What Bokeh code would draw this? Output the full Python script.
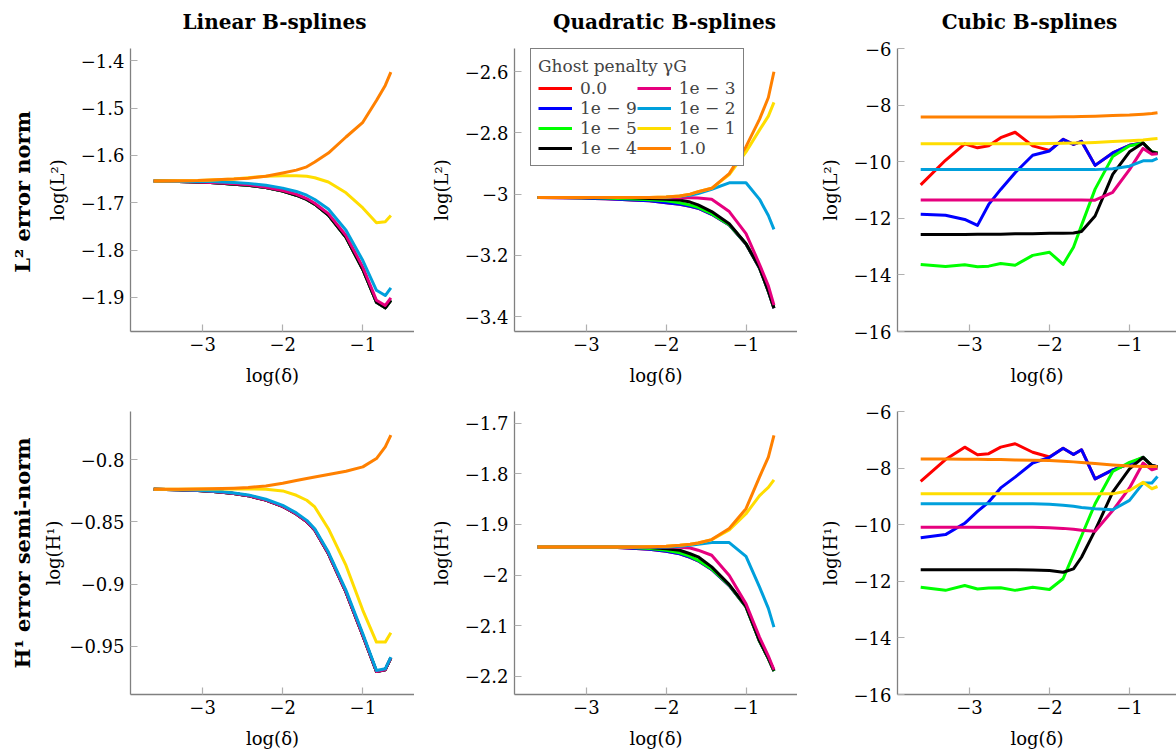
import math
from bokeh.plotting import figure
from bokeh.layouts import column, row
from bokeh.models import (Range1d, FixedTicker, CustomJSTickFormatter, Label,
                          Legend, LegendItem)
from bokeh.embed import file_html
from bokeh.resources import INLINE

# ---------------- data ----------------
log_delta = [-3.61, -3.30, -3.06, -2.90, -2.76, -2.61, -2.43, -2.21, -2.00,
             -1.83, -1.70, -1.60, -1.43, -1.21, -1.00, -0.83, -0.72, -0.65]

penalty_labels = ["0.0", "1e − 9", "1e − 5", "1e − 4", "1e − 3", "1e − 2", "1e − 1", "1.0"]
penalty_colors = ["#ff0000", "#0000ff", "#00ff00", "#000000", "#e6007e", "#00a0dc", "#ffdd00", "#ff8000"]

col_titles = ["Linear B-splines", "Quadratic B-splines", "Cubic B-splines"]
row_titles = ["L² error norm", "H¹ error semi-norm"]
y_labels = ["log(L²)", "log(H¹)"]
x_label = "log(δ)"
legend_title = "Ghost penalty γG"

x_ticks = [-3, -2, -1]
yticks_lin_l2 = [-1.9, -1.8, -1.7, -1.6, -1.5, -1.4]
yticks_quad_l2 = [-3.4, -3.2, -3.0, -2.8, -2.6]
yticks_cubic = [-16, -14, -12, -10, -8, -6]
yticks_lin_h1 = [-0.95, -0.9, -0.85, -0.8]
yticks_quad_h1 = [-2.2, -2.1, -2.0, -1.9, -1.8, -1.7]

# Linear, L2
lin_l2_black = [-1.654, -1.655, -1.656, -1.657, -1.659, -1.661, -1.663, -1.668, -1.675,
                -1.684, -1.693, -1.703, -1.726, -1.773, -1.841, -1.910, -1.922, -1.906]
lin_l2_red = list(lin_l2_black)
lin_l2_blue = list(lin_l2_black)
lin_l2_green = list(lin_l2_black)
lin_l2_magenta = [-1.654, -1.655, -1.656, -1.657, -1.658, -1.660, -1.662, -1.667, -1.674,
                  -1.682, -1.691, -1.701, -1.723, -1.769, -1.836, -1.906, -1.917, -1.901]
lin_l2_cyan = [-1.654, -1.6545, -1.655, -1.655, -1.656, -1.657, -1.659, -1.663, -1.669,
               -1.676, -1.684, -1.693, -1.713, -1.758, -1.822, -1.885, -1.896, -1.880]
lin_l2_yellow = [-1.654, -1.6535, -1.653, -1.652, -1.651, -1.650, -1.647, -1.644, -1.643,
                 -1.643, -1.644, -1.647, -1.656, -1.679, -1.711, -1.742, -1.740, -1.727]
lin_l2_orange = [-1.654, -1.6535, -1.653, -1.652, -1.651, -1.650, -1.648, -1.644, -1.637,
                 -1.631, -1.624, -1.614, -1.595, -1.561, -1.530, -1.484, -1.452, -1.424]

# Quadratic, L2
quad_l2_blue = [-3.011, -3.012, -3.013, -3.014, -3.015, -3.017, -3.019, -3.022, -3.028,
                -3.033, -3.040, -3.046, -3.066, -3.101, -3.163, -3.242, -3.318, -3.373]
quad_l2_red = list(quad_l2_blue)
quad_l2_green = [-3.011, -3.011, -3.012, -3.012, -3.013, -3.014, -3.016, -3.018, -3.022,
                 -3.028, -3.036, -3.043, -3.064, -3.100, -3.162, -3.241, -3.317, -3.372]
quad_l2_black = [-3.011, -3.011, -3.011, -3.011, -3.011, -3.011, -3.012, -3.014, -3.017,
                 -3.019, -3.026, -3.035, -3.057, -3.097, -3.162, -3.241, -3.317, -3.372]
quad_l2_magenta = [-3.011, -3.011, -3.011, -3.011, -3.011, -3.011, -3.011, -3.011, -3.012,
                   -3.012, -3.012, -3.013, -3.017, -3.057, -3.129, -3.230, -3.300, -3.363]
quad_l2_cyan = [-3.011, -3.011, -3.011, -3.011, -3.011, -3.011, -3.011, -3.011, -3.010,
                -3.007, -3.004, -2.998, -2.984, -2.963, -2.963, -3.017, -3.070, -3.115]
quad_l2_yellow = [-3.011, -3.011, -3.011, -3.011, -3.011, -3.011, -3.011, -3.011, -3.009,
                  -3.006, -3.000, -2.992, -2.981, -2.936, -2.862, -2.790, -2.745, -2.700]
quad_l2_orange = [-3.011, -3.011, -3.011, -3.011, -3.011, -3.011, -3.011, -3.011, -3.009,
                  -3.006, -3.000, -2.992, -2.981, -2.933, -2.845, -2.755, -2.684, -2.600]

# Cubic, L2
cub_l2_red = [-10.82, -9.95, -9.37, -9.51, -9.44, -9.15, -8.96, -9.44, -9.60,
              -9.21, -9.39, -9.28, -10.13, -9.69, -9.42, -9.34, -9.67, -9.70]
cub_l2_blue = [-11.86, -11.89, -12.04, -12.25, -11.51, -10.98, -10.39, -9.77, -9.62,
               -9.21, -9.39, -9.28, -10.13, -9.69, -9.42, -9.34, -9.67, -9.70]
cub_l2_green = [-13.63, -13.70, -13.64, -13.71, -13.69, -13.60, -13.66, -13.31, -13.20,
                -13.63, -13.02, -12.25, -10.97, -9.82, -9.44, -9.34, -9.65, -9.68]
cub_l2_black = [-12.57, -12.57, -12.57, -12.56, -12.56, -12.56, -12.55, -12.55, -12.53,
                -12.53, -12.52, -12.47, -11.92, -10.45, -9.65, -9.34, -9.66, -9.70]
cub_l2_magenta = [-11.35, -11.35, -11.35, -11.35, -11.35, -11.35, -11.35, -11.35, -11.35,
                  -11.35, -11.35, -11.35, -11.36, -11.08, -10.28, -9.53, -9.74, -9.72]
cub_l2_cyan = [-10.28, -10.28, -10.28, -10.28, -10.28, -10.28, -10.28, -10.28, -10.28,
               -10.28, -10.28, -10.28, -10.28, -10.25, -10.16, -9.97, -9.97, -9.88]
cub_l2_yellow = [-9.37, -9.37, -9.37, -9.37, -9.37, -9.37, -9.37, -9.37, -9.36,
                 -9.35, -9.34, -9.34, -9.32, -9.29, -9.26, -9.23, -9.20, -9.18]
cub_l2_orange = [-8.42, -8.42, -8.42, -8.42, -8.42, -8.42, -8.42, -8.42, -8.42,
                 -8.41, -8.41, -8.40, -8.39, -8.37, -8.35, -8.32, -8.30, -8.27]

# Linear, H1
lin_h1_black = [-0.8237, -0.8241, -0.8247, -0.8253, -0.8261, -0.8271, -0.8288, -0.8324, -0.8374,
                -0.8436, -0.8497, -0.8565, -0.8755, -0.9066, -0.9415, -0.9705, -0.9690, -0.9595]
lin_h1_red = list(lin_h1_black)
lin_h1_blue = list(lin_h1_black)
lin_h1_green = list(lin_h1_black)
lin_h1_magenta = list(lin_h1_black)
lin_h1_cyan = [-0.8237, -0.8240, -0.8245, -0.8250, -0.8257, -0.8266, -0.8282, -0.8317, -0.8366,
               -0.8427, -0.8487, -0.8554, -0.8742, -0.9051, -0.9400, -0.9696, -0.9683, -0.9589]
lin_h1_yellow = [-0.8237, -0.8236, -0.8235, -0.8235, -0.8234, -0.8234, -0.8234, -0.8237, -0.8250,
                 -0.8285, -0.8325, -0.8379, -0.8554, -0.8850, -0.9212, -0.9468, -0.9468, -0.9392]
lin_h1_orange = [-0.8237, -0.8236, -0.8235, -0.8233, -0.8231, -0.8228, -0.8222, -0.8210, -0.8188,
                 -0.8166, -0.8150, -0.8138, -0.8118, -0.8091, -0.8056, -0.7989, -0.7895, -0.7801]

# Quadratic, H1
quad_h1_blue = [-1.9447, -1.9447, -1.9447, -1.9447, -1.9447, -1.9455, -1.947, -1.949, -1.953,
                -1.958, -1.965, -1.972, -1.989, -2.021, -2.063, -2.131, -2.165, -2.190]
quad_h1_red = list(quad_h1_blue)
quad_h1_green = [-1.9447, -1.9447, -1.9447, -1.9447, -1.9447, -1.9447, -1.9455, -1.9475, -1.951,
                 -1.956, -1.963, -1.971, -1.988, -2.020, -2.063, -2.131, -2.165, -2.190]
quad_h1_black = [-1.9447, -1.9447, -1.9447, -1.9447, -1.9447, -1.9447, -1.9447, -1.9455, -1.948,
                 -1.951, -1.958, -1.964, -1.984, -2.019, -2.062, -2.130, -2.164, -2.189]
quad_h1_magenta = [-1.9447, -1.9447, -1.9447, -1.9447, -1.9447, -1.9447, -1.9447, -1.9447, -1.9447,
                   -1.945, -1.9465, -1.951, -1.961, -2.001, -2.057, -2.123, -2.160, -2.187]
quad_h1_cyan = [-1.9447, -1.9447, -1.9447, -1.9447, -1.9447, -1.9447, -1.9447, -1.9447, -1.9447,
                -1.943, -1.941, -1.939, -1.936, -1.936, -1.963, -2.024, -2.066, -2.103]
quad_h1_yellow = [-1.9447, -1.9447, -1.9447, -1.9447, -1.9447, -1.9447, -1.9445, -1.944, -1.943,
                  -1.9414, -1.9394, -1.9368, -1.930, -1.911, -1.879, -1.843, -1.827, -1.812]
quad_h1_orange = [-1.9447, -1.9447, -1.9447, -1.9447, -1.9447, -1.9447, -1.9445, -1.944, -1.943,
                  -1.9414, -1.9394, -1.9368, -1.930, -1.908, -1.869, -1.806, -1.767, -1.724]

# Cubic, H1
cub_h1_red = [-8.47, -7.70, -7.26, -7.53, -7.49, -7.26, -7.14, -7.44, -7.61,
              -7.30, -7.52, -7.35, -8.38, -8.06, -7.85, -7.62, -7.91, -7.95]
cub_h1_blue = [-10.46, -10.35, -9.95, -9.53, -9.20, -8.70, -8.32, -7.82, -7.62,
               -7.30, -7.52, -7.35, -8.38, -8.06, -7.85, -7.62, -7.91, -7.95]
cub_h1_green = [-12.21, -12.32, -12.15, -12.27, -12.24, -12.23, -12.32, -12.21, -12.29,
                -11.91, -11.05, -10.40, -9.26, -8.12, -7.80, -7.62, -7.92, -7.96]
cub_h1_black = [-11.59, -11.59, -11.59, -11.59, -11.59, -11.59, -11.59, -11.60, -11.62,
                -11.68, -11.56, -11.15, -10.20, -8.85, -8.03, -7.62, -7.91, -7.95]
cub_h1_magenta = [-10.09, -10.09, -10.09, -10.09, -10.09, -10.09, -10.09, -10.09, -10.11,
                  -10.13, -10.16, -10.20, -10.23, -9.50, -8.70, -7.82, -8.06, -8.00]
cub_h1_cyan = [-9.26, -9.26, -9.26, -9.26, -9.26, -9.26, -9.26, -9.26, -9.28,
               -9.31, -9.35, -9.39, -9.44, -9.47, -9.14, -8.53, -8.53, -8.30]
cub_h1_yellow = [-8.91, -8.91, -8.91, -8.91, -8.91, -8.91, -8.91, -8.91, -8.91,
                 -8.91, -8.91, -8.91, -8.91, -8.91, -8.79, -8.50, -8.73, -8.65]
cub_h1_orange = [-7.68, -7.68, -7.69, -7.69, -7.70, -7.70, -7.71, -7.72, -7.73,
                 -7.76, -7.78, -7.80, -7.84, -7.89, -7.93, -7.94, -7.94, -7.94]

panels = [
    [lin_l2_red, lin_l2_blue, lin_l2_green, lin_l2_black, lin_l2_magenta, lin_l2_cyan, lin_l2_yellow, lin_l2_orange],
    [quad_l2_red, quad_l2_blue, quad_l2_green, quad_l2_black, quad_l2_magenta, quad_l2_cyan, quad_l2_yellow, quad_l2_orange],
    [cub_l2_red, cub_l2_blue, cub_l2_green, cub_l2_black, cub_l2_magenta, cub_l2_cyan, cub_l2_yellow, cub_l2_orange],
    [lin_h1_red, lin_h1_blue, lin_h1_green, lin_h1_black, lin_h1_magenta, lin_h1_cyan, lin_h1_yellow, lin_h1_orange],
    [quad_h1_red, quad_h1_blue, quad_h1_green, quad_h1_black, quad_h1_magenta, quad_h1_cyan, quad_h1_yellow, quad_h1_orange],
    [cub_h1_red, cub_h1_blue, cub_h1_green, cub_h1_black, cub_h1_magenta, cub_h1_cyan, cub_h1_yellow, cub_h1_orange],
]
y_ranges = [(-1.972, -1.374), (-3.449, -2.524), (-16, -6),
            (-0.989, -0.761), (-2.236, -1.677), (-16, -6)]
y_tick_sets = [yticks_lin_l2, yticks_quad_l2, yticks_cubic,
               yticks_lin_h1, yticks_quad_h1, yticks_cubic]

# ---------------- styling / layout ----------------
FONT = "DejaVu Serif"
TICK_FS = "18px"
fmt_code = """
const s = String(parseFloat(tick.toFixed(4)));
return s.replace('-', '\u2212');
"""

W, H = 1176, 754
STRIP_W = 40          # left strip holding the row titles
HEADER_H = 36         # header strip holding the column titles
TOP_PAD = 12          # space above the first-row frames (room for top tick labels)
FRAME_H = 283
frame_w = [284, 283, 279]
border_l = [90, 100, 100]
x_ends = [-0.355, -0.355, -0.4125]
col_title_x = [234, 624, 989]      # centres inside the header strip
row_title_y = [H - 191.5, H - 552.5]


def blank_fig(w, h):
    f = figure(width=w, height=h, min_border=0, x_axis_type=None,
               y_axis_type=None, x_range=Range1d(0, 1), y_range=Range1d(0, 1),
               output_backend="svg", toolbar_location=None,
               background_fill_color="white", border_fill_color="white")
    f.outline_line_color = None
    return f


def make_fig(idx):
    r, c = divmod(idx, 3)
    top = TOP_PAD if r == 0 else 20
    p = figure(frame_width=frame_w[c], frame_height=FRAME_H,
               min_border_left=border_l[c], min_border_right=0,
               min_border_top=top, min_border_bottom=60,
               x_range=Range1d(-3.9, x_ends[c]),
               y_range=Range1d(*y_ranges[idx]),
               output_backend="svg", toolbar_location=None,
               background_fill_color="white", border_fill_color="white")
    p.outline_line_color = None
    p.grid.visible = False
    for ax in (p.xaxis[0], p.yaxis[0]):
        ax.axis_line_color = "#808080"
        ax.axis_line_width = 1.3
        ax.major_tick_line_color = "#b0b0b0"
        ax.major_tick_line_width = 1.2
        ax.major_tick_in = 7
        ax.major_tick_out = 0
        ax.minor_tick_line_color = None
        ax.major_label_text_font = FONT
        ax.major_label_text_font_size = TICK_FS
        ax.major_label_text_color = "black"
        ax.axis_label_text_font = FONT
        ax.axis_label_text_font_size = "18px"
        ax.axis_label_text_font_style = "normal"
        ax.axis_label_text_color = "black"
        ax.formatter = CustomJSTickFormatter(code=fmt_code)
    p.xaxis[0].ticker = FixedTicker(ticks=x_ticks)
    p.yaxis[0].ticker = FixedTicker(ticks=y_tick_sets[idx])
    p.xaxis[0].axis_label = x_label
    p.xaxis[0].major_label_standoff = 5
    p.xaxis[0].axis_label_standoff = 11
    p.yaxis[0].axis_label = y_labels[r]
    p.yaxis[0].major_label_standoff = 6
    p.yaxis[0].axis_label_standoff = 10 if idx != 3 else 2

    renderers = []
    for series, color in zip(panels[idx], penalty_colors):
        gl = p.line(log_delta, series, line_color=color, line_width=3,
                    line_join="round")
        renderers.append(gl)

    if idx == 1:
        items = [LegendItem(label=lab, renderers=[rr])
                 for lab, rr in zip(penalty_labels, renderers)]
        leg = Legend(items=items, location=(16, 165), orientation="vertical",
                     ncols=2, title=legend_title,
                     title_text_font=FONT, title_text_font_size="17px",
                     title_text_font_style="normal",
                     label_text_font=FONT, label_text_font_size="17px",
                     glyph_width=34, glyph_height=20, label_height=20,
                     label_standoff=8, spacing=0, padding=7, margin=0,
                     title_standoff=2,
                     border_line_color="black", border_line_width=1,
                     background_fill_color="white", background_fill_alpha=1.0)
        p.add_layout(leg, "center")
    return p


# column titles
header = blank_fig(W - STRIP_W, HEADER_H)
for cx, txt in zip(col_title_x, col_titles):
    header.add_layout(Label(x=cx, y=HEADER_H - 21, x_units="screen", y_units="screen",
                            text=txt, text_align="center", text_baseline="middle",
                            text_font=FONT, text_font_size="20px",
                            text_font_style="bold", text_color="black"))

# row titles
strip = blank_fig(STRIP_W, H)
for ry, txt in zip(row_title_y, row_titles):
    strip.add_layout(Label(x=22, y=ry, x_units="screen", y_units="screen",
                           angle=math.pi / 2, text=txt, text_align="center",
                           text_baseline="middle", text_font=FONT,
                           text_font_size="21px", text_font_style="bold",
                           text_color="black"))

figs = [make_fig(i) for i in range(6)]
grid = column(header,
              row(figs[0], figs[1], figs[2], spacing=0),
              row(figs[3], figs[4], figs[5], spacing=0), spacing=0)
layout = row(strip, grid, spacing=0)

open("out.html", "w").write(file_html(layout, INLINE))
